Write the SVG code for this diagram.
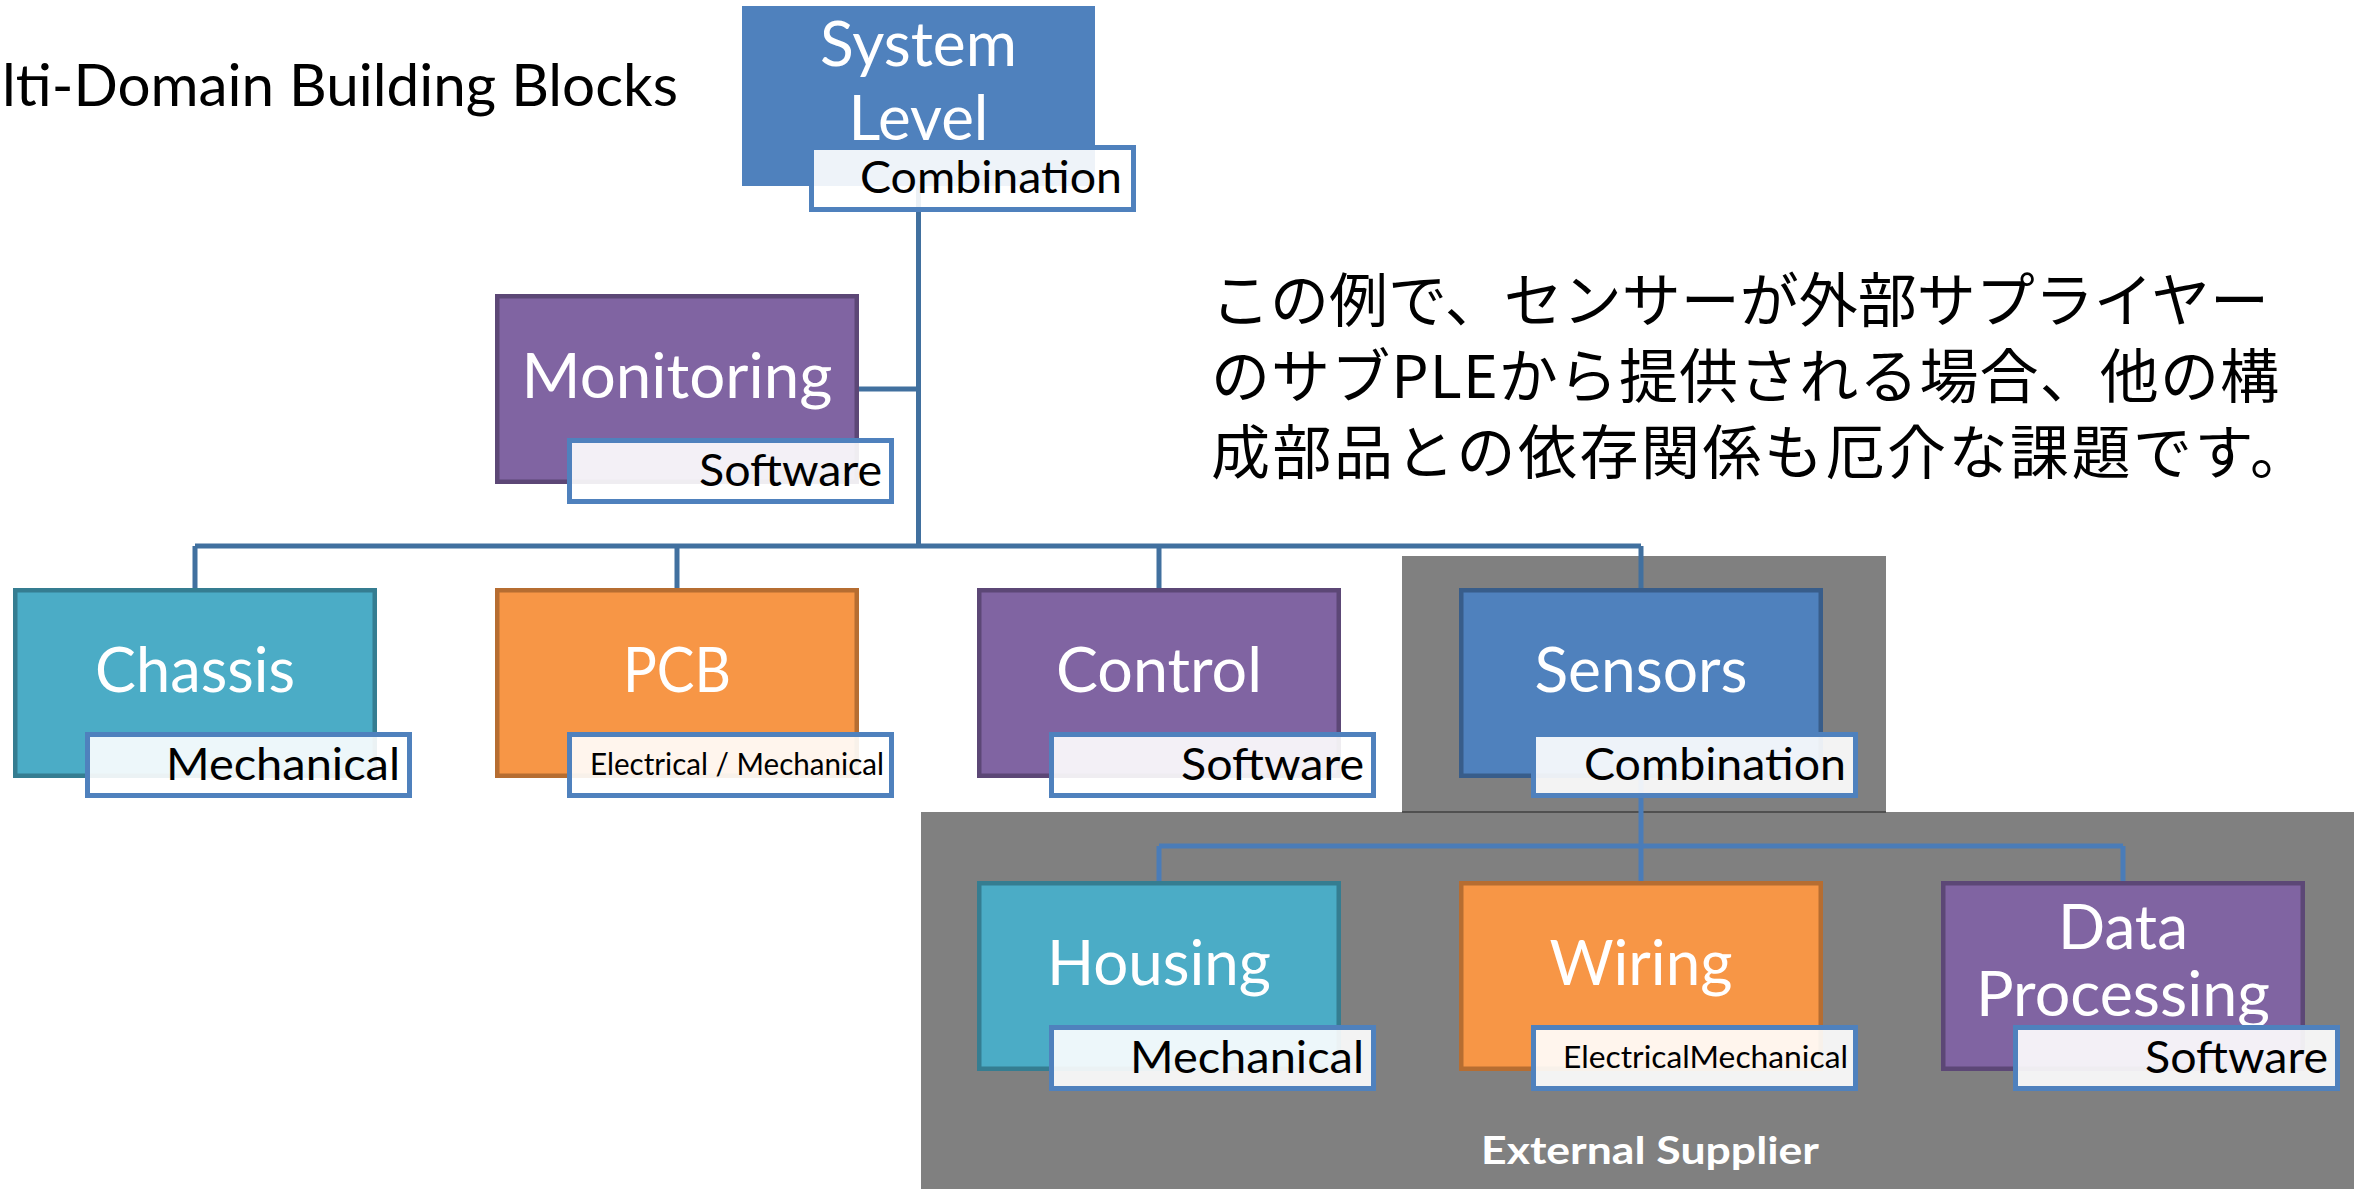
<svg xmlns="http://www.w3.org/2000/svg" width="2354" height="1189" viewBox="0 0 2354 1189">
<style>
.bg{fill:#ffffff}
.gray{fill:#808080}
.box{stroke-width:4.5}
.blue{fill:#4F81BD;stroke:#385D8A}
.purple{fill:#8064A2;stroke:#5C4776}
.teal{fill:#4BACC6;stroke:#357D91}
.orange{fill:#F79646;stroke:#B66D31}
.lbl{fill:#ffffff;fill-opacity:0.9;stroke:#4F81BD;stroke-width:5}
.t{font-family:Lato,"Open Sans","Liberation Sans",sans-serif;fill:#ffffff;font-size:61px;text-anchor:middle}
.l{font-family:Lato,"Open Sans","Liberation Sans",sans-serif;fill:#000000;font-size:45px;text-anchor:end}
.ls{font-family:Lato,"Open Sans","Liberation Sans",sans-serif;fill:#000000;font-size:30px;text-anchor:end}
.title{font-family:Lato,"Open Sans","Liberation Sans",sans-serif;fill:#000000;font-size:57.6px}
.jp{font-family:"Noto Sans CJK JP","Noto Sans CJK SC",sans-serif;fill:#000000;font-size:59px}
.ext{font-family:Lato,"Open Sans","Liberation Sans",sans-serif;fill:#ffffff;font-size:38px;font-weight:bold;text-anchor:middle}
.conn{fill:none;stroke:#41709F;stroke-width:5}
.conn2{fill:none;stroke:#4A7CB8;stroke-width:5}
</style>
<rect class="bg" x="0" y="0" width="2354" height="1189"/>
<g id="external-supplier-bg">
<rect class="gray" x="1402" y="556" width="484" height="257"/>
<rect class="gray" x="921" y="812" width="1433" height="377"/>
<line x1="1402" y1="812" x2="1886" y2="812" stroke="#404040" stroke-width="1.5"/>
<text class="ext" x="1650" y="1164" textLength="338" lengthAdjust="spacingAndGlyphs">External Supplier</text>
</g>
<text id="title" class="title" x="2" y="106" textLength="676" lengthAdjust="spacingAndGlyphs">lti-Domain Building Blocks</text>
<g id="note">
<text class="jp" x="1211" y="322" textLength="1058" lengthAdjust="spacing">この例で、センサーが外部サプライヤー</text>
<text class="jp" x="1211" y="398" textLength="1068" lengthAdjust="spacing">のサブPLEから提供される場合、他の構</text>
<text class="jp" x="1211" y="474" textLength="1098" lengthAdjust="spacing">成部品との依存関係も厄介な課題です。</text>
</g>
<g id="connectors">
<path class="conn" d="M918.5 186 V546"/>
<path class="conn" d="M859 389 H918.5"/>
<path class="conn" d="M195 546 H1641"/>
<path class="conn" d="M195 546 V588 M677 546 V588 M1159 546 V588 M1641 546 V588"/>
<path class="conn2" d="M1641 778 V846 M1159 846 H2123 M1159 846 V881 M1641 846 V881 M2123 846 V881"/>
</g>
<g id="node-system-level">
<rect x="742" y="6" width="353" height="180" fill="#4F81BD"/>
<text class="t" x="918.5" y="66" font-size="60" textLength="197" lengthAdjust="spacingAndGlyphs">System</text>
<text class="t" x="918.5" y="140" font-size="60" textLength="140" lengthAdjust="spacingAndGlyphs">Level</text>
<rect class="lbl" x="811.5" y="147.5" width="322" height="62"/>
<text class="l" x="1122" y="193" textLength="262" lengthAdjust="spacingAndGlyphs">Combination</text>
</g>
<g id="node-monitoring">
<rect class="box purple" x="497.25" y="296.25" width="359.5" height="185.5"/>
<text class="t" x="677" y="398" textLength="311" lengthAdjust="spacingAndGlyphs">Monitoring</text>
<rect class="lbl" x="569.5" y="440.5" width="322" height="61"/>
<text class="l" x="882" y="486" textLength="183" lengthAdjust="spacingAndGlyphs">Software</text>
</g>
<g id="node-chassis">
<rect class="box teal" x="15.25" y="590.25" width="359.5" height="185.5"/>
<text class="t" x="195" y="692" textLength="200" lengthAdjust="spacingAndGlyphs">Chassis</text>
<rect class="lbl" x="87.5" y="734.5" width="322" height="61"/>
<text class="l" x="400" y="780" textLength="234" lengthAdjust="spacingAndGlyphs">Mechanical</text>
</g>
<g id="node-pcb">
<rect class="box orange" x="497.25" y="590.25" width="359.5" height="185.5"/>
<text class="t" x="677" y="692" textLength="108" lengthAdjust="spacingAndGlyphs">PCB</text>
<rect class="lbl" x="569.5" y="734.5" width="322" height="61"/>
<text class="ls" x="884" y="775" font-size="28.5" textLength="294" lengthAdjust="spacingAndGlyphs">Electrical / Mechanical</text>
</g>
<g id="node-control">
<rect class="box purple" x="979.25" y="590.25" width="359.5" height="185.5"/>
<text class="t" x="1159" y="692" textLength="206" lengthAdjust="spacingAndGlyphs">Control</text>
<rect class="lbl" x="1051.5" y="734.5" width="322" height="61"/>
<text class="l" x="1364" y="780" textLength="183" lengthAdjust="spacingAndGlyphs">Software</text>
</g>
<g id="node-sensors">
<rect class="box blue" x="1461.25" y="590.25" width="359.5" height="185.5"/>
<text class="t" x="1641" y="692" textLength="213" lengthAdjust="spacingAndGlyphs">Sensors</text>
<rect class="lbl" x="1533.5" y="734.5" width="322" height="61"/>
<text class="l" x="1846" y="780" textLength="262" lengthAdjust="spacingAndGlyphs">Combination</text>
</g>
<g id="node-housing">
<rect class="box teal" x="979.25" y="883.25" width="359.5" height="185.5"/>
<text class="t" x="1159" y="985" textLength="224" lengthAdjust="spacingAndGlyphs">Housing</text>
<rect class="lbl" x="1051.5" y="1027.5" width="322" height="61"/>
<text class="l" x="1364" y="1073" textLength="234" lengthAdjust="spacingAndGlyphs">Mechanical</text>
</g>
<g id="node-wiring">
<rect class="box orange" x="1461.25" y="883.25" width="359.5" height="185.5"/>
<text class="t" x="1641" y="985" textLength="183" lengthAdjust="spacingAndGlyphs">Wiring</text>
<rect class="lbl" x="1533.5" y="1027.5" width="322" height="61"/>
<text class="ls" x="1848" y="1068" textLength="285" lengthAdjust="spacingAndGlyphs">ElectricalMechanical</text>
</g>
<g id="node-data-processing">
<rect class="box purple" x="1943.25" y="883.25" width="359.5" height="185.5"/>
<text class="t" x="2123" y="949" textLength="130" lengthAdjust="spacingAndGlyphs">Data</text>
<text class="t" x="2123" y="1016" textLength="294" lengthAdjust="spacingAndGlyphs">Processing</text>
<rect class="lbl" x="2015.5" y="1027.5" width="322" height="61"/>
<text class="l" x="2328" y="1073" textLength="183" lengthAdjust="spacingAndGlyphs">Software</text>
</g>
</svg>
